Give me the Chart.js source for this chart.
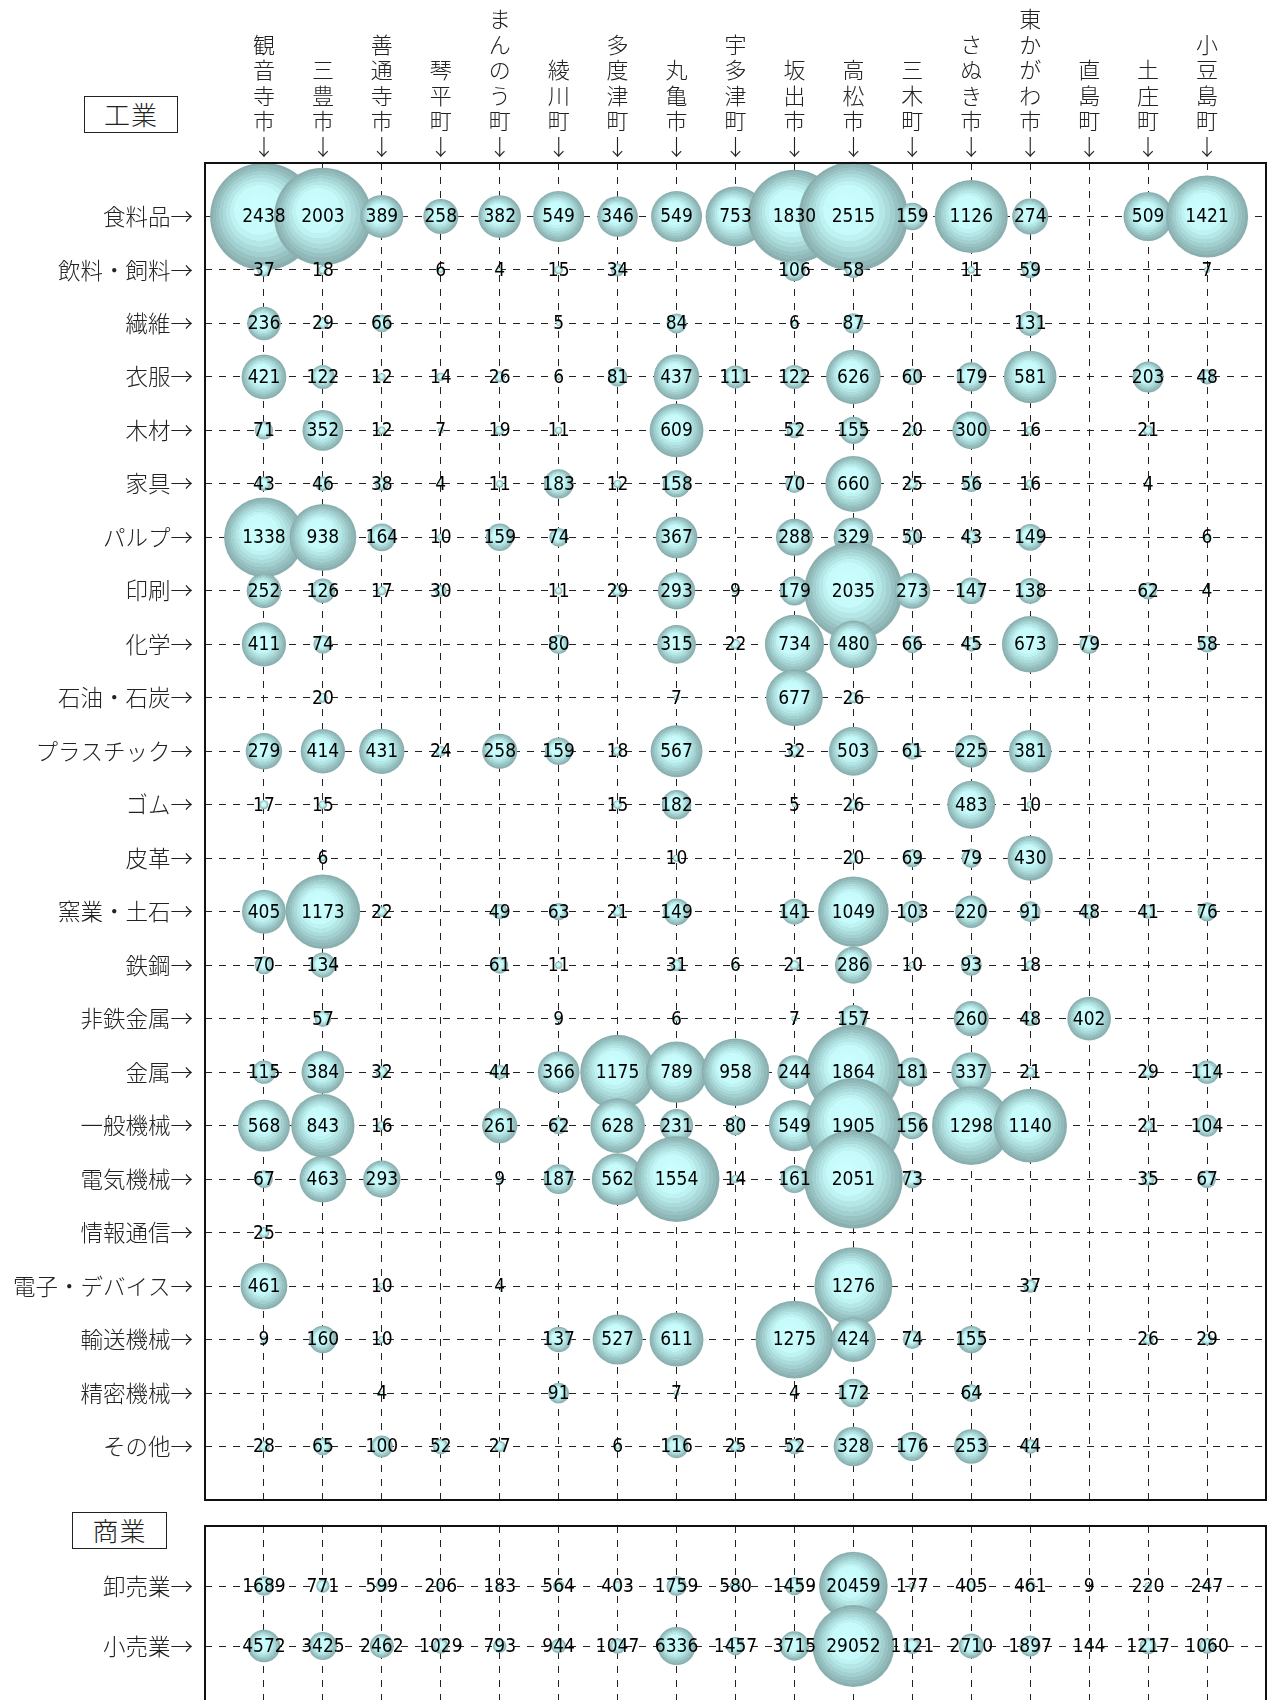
<!DOCTYPE html>
<html lang="ja">
<head>
<meta charset="utf-8">
<script src="https://cdn.jsdelivr.net/npm/chart.js@4.4.1/dist/chart.umd.min.js"></script>
<style>
  html, body { margin: 0; padding: 0; background: #fff; width: 1270px; height: 1700px; overflow: hidden; }
  .box { position: absolute; overflow: hidden; }
  .tag {
    position: absolute; box-sizing: border-box; border: 1.5px solid #222;
    font-family: 'Noto Sans CJK JP', sans-serif; font-weight: 300; font-size: 26px;
    color: #222; text-align: center; letter-spacing: 1px;
  }
</style>
</head>
<body>
<div class="tag" style="left:84px; top:96px; width:94px; height:37px; line-height:33px;">工業</div>
<div class="tag" style="left:72px; top:1512px; width:95px; height:37px; line-height:33px;">商業</div>
<div class="box" style="left:0; top:0; width:1270px; height:1504px;"><canvas id="kogyo" width="1270" height="1504"></canvas></div>
<div class="box" style="left:0; top:1520px; width:1270px; height:180px;"><canvas id="shogyo" width="1270" height="250"></canvas></div>
<script>
// municipalities (columns)
const cities = ['観音寺市', '三豊市', '善通寺市', '琴平町', 'まんのう町', '綾川町', '多度津町', '丸亀市', '宇多津町',
  '坂出市', '高松市', '三木町', 'さぬき市', '東かがわ市', '直島町', '土庄町', '小豆島町'];

// 工業 rows
const industries = ['食料品', '飲料・飼料', '繊維', '衣服', '木材', '家具', 'パルプ', '印刷', '化学', '石油・石炭',
  'プラスチック', 'ゴム', '皮革', '窯業・土石', '鉄鋼', '非鉄金属', '金属', '一般機械', '電気機械', '情報通信',
  '電子・デバイス', '輸送機械', '精密機械', 'その他'];

const food      = [2438, 2003, 389, 258, 382, 549, 346, 549, 753, 1830, 2515, 159, 1126, 274, null, 509, 1421];
const drinks    = [37, 18, null, 6, 4, 15, 34, null, null, 106, 58, null, 11, 59, null, null, 7];
const textile   = [236, 29, 66, null, null, 5, null, 84, null, 6, 87, null, null, 131, null, null, null];
const clothes   = [421, 122, 12, 14, 26, 6, 81, 437, 111, 122, 626, 60, 179, 581, null, 203, 48];
const lumber    = [71, 352, 12, 7, 19, 11, null, 609, null, 52, 155, 20, 300, 16, null, 21, null];
const furniture = [43, 46, 38, 4, 11, 183, 12, 158, null, 70, 660, 25, 56, 16, null, 4, null];
const pulp      = [1338, 938, 164, 10, 159, 74, null, 367, null, 288, 329, 50, 43, 149, null, null, 6];
const printing  = [252, 126, 17, 30, null, 11, 29, 293, 9, 179, 2035, 273, 147, 138, null, 62, 4];
const chemical  = [411, 74, null, null, null, 80, null, 315, 22, 734, 480, 66, 45, 673, 79, null, 58];
const petroleum = [null, 20, null, null, null, null, null, 7, null, 677, 26, null, null, null, null, null, null];
const plastic   = [279, 414, 431, 24, 258, 159, 18, 567, null, 32, 503, 61, 225, 381, null, null, null];
const rubber    = [17, 15, null, null, null, null, 15, 182, null, 5, 26, null, 483, 10, null, null, null];
const leather   = [null, 6, null, null, null, null, null, 10, null, null, 20, 69, 79, 430, null, null, null];
const ceramics  = [405, 1173, 22, null, 49, 63, 21, 149, null, 141, 1049, 103, 220, 91, 48, 41, 76];
const steel     = [70, 134, null, null, 61, 11, null, 31, 6, 21, 286, 10, 93, 18, null, null, null];
const nonferrous = [null, 57, null, null, null, 9, null, 6, null, 7, 157, null, 260, 48, 402, null, null];
const metal     = [115, 384, 32, null, 44, 366, 1175, 789, 958, 244, 1864, 181, 337, 21, null, 29, 114];
const machinery = [568, 843, 16, null, 261, 62, 628, 231, 80, 549, 1905, 156, 1298, 1140, null, 21, 104];
const electric  = [67, 463, 293, null, 9, 187, 562, 1554, 14, 161, 2051, 73, null, null, null, 35, 67];
const infocomm  = [25, null, null, null, null, null, null, null, null, null, null, null, null, null, null, null, null];
const devices   = [461, null, 10, null, 4, null, null, null, null, null, 1276, null, null, 37, null, null, null];
const transport = [9, 160, 10, null, null, 137, 527, 611, null, 1275, 424, 74, 155, null, null, 26, 29];
const precision = [null, null, 4, null, null, 91, null, 7, null, 4, 172, null, 64, null, null, null, null];
const others    = [28, 65, 100, 52, 27, null, 6, 116, 25, 52, 328, 176, 253, 44, null, null, null];

const kogyoRows = [food, drinks, textile, clothes, lumber, furniture, pulp, printing, chemical, petroleum,
  plastic, rubber, leather, ceramics, steel, nonferrous, metal, machinery, electric, infocomm,
  devices, transport, precision, others];

// 商業 rows
const trades = ['卸売業', '小売業'];
const wholesale = [1689, 771, 599, 206, 183, 564, 403, 1759, 580, 1459, 20459, 177, 405, 461, 9, 220, 247];
const retail    = [4572, 3425, 2462, 1029, 793, 944, 1047, 6336, 1457, 3715, 29052, 1121, 2710, 1897, 144, 1217, 1060];
const shogyoRows = [wholesale, retail];

const JP = "'Noto Sans CJK JP', sans-serif";
const NUM = "'Liberation Sans Narrow', 'DejaVu Sans Condensed', 'Noto Sans CJK JP', sans-serif";

const toPoints = (rows, k) => {
  const pts = [];
  rows.forEach((row, ri) => {
    row.forEach((v, ci) => {
      if (v === null) return;
      pts.push({ x: ci, y: ri, r: Math.sqrt(v) * k, v: v });
    });
  });
  return pts;
};

// stepped rings, light cyan centre to grey-teal rim
const bands = [
  [0, '#ccffff'], [0.36, '#c7fbfb'], [0.46, '#bff2f2'], [0.55, '#b5e7e7'], [0.64, '#abdbdb'],
  [0.72, '#a2cfcf'], [0.8, '#99c3c3'], [0.87, '#91b9b9'], [0.94, '#8aafaf']
];

const bubbleFill = (context) => {
  if (context.type !== 'data') return '#b5dede';
  const chart = context.chart;
  const raw = context.raw;
  const x = chart.scales.x.getPixelForValue(raw.x);
  const y = chart.scales.y.getPixelForValue(raw.y);
  const r = raw.r;
  if (!isFinite(x) || !isFinite(y) || r < 1) return '#b5dede';
  const g = chart.ctx.createRadialGradient(x - r * 0.17, y - r * 0.22, 0, x, y, r);
  for (let i = 0; i < bands.length; i++) {
    const [stop, col] = bands[i];
    g.addColorStop(stop, col);
    const next = i + 1 < bands.length ? bands[i + 1][0] : 1;
    if (i > 0) g.addColorStop(next - 0.001, col);
  }
  return g;
};

const valueLabels = {
  id: 'valueLabels',
  afterDatasetsDraw(chart) {
    const ctx = chart.ctx;
    const meta = chart.getDatasetMeta(0);
    const data = chart.data.datasets[0].data;
    ctx.save();
    ctx.font = '19px ' + NUM;
    ctx.fillStyle = '#000';
    ctx.textAlign = 'center';
    ctx.textBaseline = 'middle';
    meta.data.forEach((el, i) => {
      ctx.fillText(String(data[i].v), el.x, el.y + 1);
    });
    ctx.restore();
  }
};

const frame = {
  id: 'frame',
  afterDraw(chart) {
    const a = chart.chartArea;
    const ctx = chart.ctx;
    ctx.save();
    ctx.strokeStyle = '#111';
    ctx.lineWidth = 2;
    ctx.strokeRect(a.left, a.top, a.right - a.left, a.bottom - a.top);
    ctx.restore();
  }
};

const noPad = (scale) => {
  scale.paddingLeft = 0;
  scale.paddingRight = 0;
  scale.paddingTop = 0;
  scale.paddingBottom = 0;
};

const makeChart = (id, rows, rowNames, k, yMax, showCities, topH) => {
  return new Chart(document.getElementById(id), {
    type: 'bubble',
    data: {
      datasets: [{
        data: toPoints(rows, k),
        backgroundColor: bubbleFill,
        borderWidth: 0,
        hoverRadius: 0,
        clip: false
      }]
    },
    options: {
      responsive: false,
      animation: false,
      events: [],
      devicePixelRatio: 1,
      layout: { autoPadding: false, padding: { top: showCities ? 0 : 6, left: 0, right: 4, bottom: 4 } },
      plugins: { legend: { display: false }, tooltip: { enabled: false } },
      scales: {
        x: {
          type: 'linear',
          position: 'top',
          min: -1,
          max: cities.length,
          afterFit: (scale) => { scale.height = topH; noPad(scale); },
          border: { display: false, dash: [7, 7] },
          grid: {
            drawTicks: false,
            lineWidth: 1,
            color: (c) => (c.tick && c.tick.value >= 0 && c.tick.value < cities.length) ? '#222' : 'rgba(0,0,0,0)'
          },
          ticks: {
            display: showCities,
            stepSize: 1,
            autoSkip: false,
            maxRotation: 0,
            padding: 4,
            color: '#222',
            font: { family: JP, size: 22, weight: 300, lineHeight: 1.16 },
            callback: (v) => (Number.isInteger(v) && v >= 0 && v < cities.length) ? [...cities[v].split(''), '↓'] : ''
          }
        },
        y: {
          type: 'linear',
          reverse: true,
          min: -1,
          max: yMax,
          afterFit: (scale) => { scale.width = 205; noPad(scale); },
          border: { display: false, dash: [7, 7] },
          grid: {
            drawTicks: false,
            lineWidth: 1,
            color: (c) => (c.tick && c.tick.value >= 0 && c.tick.value < rowNames.length) ? '#222' : 'rgba(0,0,0,0)'
          },
          ticks: {
            stepSize: 1,
            autoSkip: false,
            padding: 12,
            color: '#222',
            font: { family: JP, size: 22.5, weight: 300 },
            callback: (v) => (Number.isInteger(v) && v >= 0 && v < rowNames.length) ? rowNames[v] + '→' : ''
          }
        }
      }
    },
    plugins: [valueLabels, frame]
  });
};

makeChart('kogyo', kogyoRows, industries, 1.09, industries.length, true, 163);
makeChart('shogyo', shogyoRows, trades, 0.24, 3, false, 0);
</script>
</body>
</html>
